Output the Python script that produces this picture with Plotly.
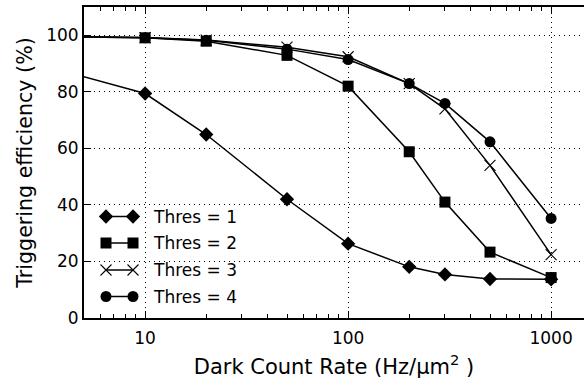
import numpy as np
import plotly.graph_objects as go

rate = [1, 10, 20, 50, 100, 200, 300, 500, 1000]
thres1 = [99.0, 79.4, 64.9, 42.0, 26.3, 18.1, 15.4, 13.8, 13.7]
thres2 = [100.0, 99.1, 97.9, 92.9, 82.0, 58.8, 41.0, 23.3, 14.3]
thres3 = [100.0, 99.2, 98.3, 95.8, 92.4, 82.9, 74.0, 54.0, 22.4]
thres4 = [100.0, 99.1, 98.2, 95.1, 91.4, 82.9, 75.9, 62.3, 35.2]
labels = ["Thres = 1", "Thres = 2", "Thres = 3", "Thres = 4"]
x_ticks = [10, 100, 1000]
x_minor = [6, 7, 8, 9, 20, 30, 40, 50, 60, 70, 80, 90,
           200, 300, 400, 500, 600, 700, 800, 900]
y_ticks = [0, 20, 40, 60, 80, 100]

FONT = "DejaVu Sans"
W, H = 584, 379
L, R, T, B = 84, 0, 7, 61

styles = [
    dict(symbol="diamond", size=11, line=dict(width=0)),
    dict(symbol="square", size=11, line=dict(width=0)),
    dict(symbol="x-thin-open", size=11, line=dict(width=1.1, color="black")),
    dict(symbol="circle", size=11, line=dict(width=0)),
]

fig = go.Figure()
for ys, st, name in zip([thres1, thres2, thres3, thres4], styles, labels):
    fig.add_trace(go.Scatter(
        x=rate, y=ys, mode="lines+markers", name=name, showlegend=False,
        line=dict(color="black", width=1.5), marker=dict(color="black", **st),
    ))

# custom legend (matplotlib style: two markers joined by a line), on a pixel overlay axis
leg_x = [106, 133]
leg_rows = [216.5, 243, 270, 296.5]
for row, st, name in zip(leg_rows, styles, labels):
    fig.add_trace(go.Scatter(
        x=leg_x, y=[row, row], xaxis="x2", yaxis="y2", mode="lines+markers",
        showlegend=False, hoverinfo="skip",
        line=dict(color="black", width=1.5), marker=dict(color="black", **st),
    ))
    fig.add_annotation(x=151, y=row, xref="x2", yref="y2", text=name,
                       showarrow=False, xanchor="left", yanchor="middle",
                       font=dict(size=17, family=FONT, color="black"))

fig.update_layout(
    width=W, height=H,
    margin=dict(l=L, r=R, t=T, b=B),
    paper_bgcolor="white", plot_bgcolor="white",
    font=dict(family=FONT, color="black", size=17),
    showlegend=False,
    xaxis2=dict(overlaying="x", range=[L, W - R], visible=False, fixedrange=True),
    yaxis2=dict(overlaying="y", range=[H - B, T], visible=False, fixedrange=True),
)
fig.layout.xaxis.update(
    type="log", range=[np.log10(5), np.log10(5) + 500 / 203],
    tickvals=x_ticks, ticktext=[str(v) for v in x_ticks],
    ticks="inside", ticklen=7, tickwidth=1, tickcolor="black",
    minor=dict(tickvals=x_minor, ticks="inside", ticklen=4, tickwidth=1,
               tickcolor="black", showgrid=False),
    showline=True, linecolor="black", linewidth=2, mirror="allticks",
    showgrid=True, gridcolor="black", gridwidth=1, griddash="1px,4px",
    zeroline=False, ticklabelstandoff=4,
    tickfont=dict(size=17, family=FONT),
    title=dict(text="Dark Count Rate (Hz/μm<sup>2</sup> )",
               font=dict(size=21, family=FONT), standoff=12),
)
fig.layout.yaxis.update(
    range=[0, 110], tickvals=y_ticks,
    ticks="inside", ticklen=7, tickwidth=1, tickcolor="black",
    showline=True, linecolor="black", linewidth=2, mirror=False,
    showgrid=True, gridcolor="black", gridwidth=1, griddash="1px,4px",
    zeroline=False,
    tickfont=dict(size=17, family=FONT),
    title=dict(text="Triggering efficiency (%)", font=dict(size=20.6, family=FONT), standoff=8),
)
fig.write_html("out.html")
